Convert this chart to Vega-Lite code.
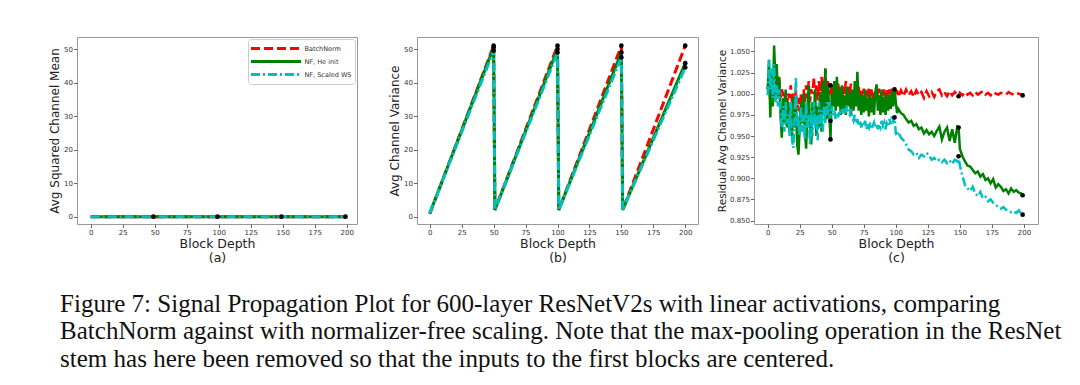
{
  "$schema": "https://vega.github.io/schema/vega-lite/v6.json",
  "background": "white",
  "padding": {"left": 48, "top": 36, "right": 0, "bottom": 0},
  "title": {
    "text": [
      "Figure 7:  Signal Propagation Plot for 600-layer ResNetV2s with linear activations, comparing",
      "BatchNorm against with normalizer-free scaling. Note that the max-pooling operation in the ResNet",
      "stem has here been removed so that the inputs to the first blocks are centered."
    ],
    "orient": "bottom",
    "anchor": "start",
    "dx": 12,
    "offset": 27,
    "font": "Liberation Serif",
    "fontSize": 25,
    "fontWeight": "normal",
    "lineHeight": 27.5,
    "color": "#111"
  },
  "config": {
    "view": {"stroke": "#999", "strokeWidth": 1},
    "axis": {
      "grid": false,
      "domain": false,
      "tickColor": "#666",
      "tickSize": 3.5,
      "labelFont": "DejaVu Sans",
      "labelFontSize": 7,
      "labelColor": "#333",
      "labelPadding": 1,
      "labelOverlap": false,
      "labelFlush": false,
      "titleFont": "DejaVu Sans",
      "titleFontWeight": "normal",
      "titleColor": "#222"
    }
  },
  "resolve": {"scale": {"color": "independent", "strokeDash": "independent"}},
  "spacing": 30,
  "hconcat": [
    {
      "width": 280,
      "height": 187,
      "encoding": {
        "x": {"field": "x", "type": "quantitative", "scale": {"domain": [-10.7, 208], "nice": false, "zero": false},
              "axis": {"values": [0, 25, 50, 75, 100, 125, 150, 175, 200], "title": ["Block Depth", "(a)"], "titleFontSize": 12.5, "titleLineHeight": 14, "titlePadding": 2}},
        "y": {"field": "y", "type": "quantitative", "scale": {"domain": [-2.2, 53.6], "nice": false, "zero": false},
              "axis": {"values": [0, 10, 20, 30, 40, 50], "title": "Avg Squared Channel Mean", "titleFontSize": 12, "titlePadding": 2}}
      },
      "layer": [
        {
          "data": {"values": [
            {"x": 0, "y": 0, "series": "BatchNorm"}, {"x": 49, "y": 0, "series": "BatchNorm"}, {"x": 99, "y": 0, "series": "BatchNorm"}, {"x": 149, "y": 0, "series": "BatchNorm"}, {"x": 199, "y": 0, "series": "BatchNorm"},
            {"x": 0, "y": 0, "series": "NF, He init"}, {"x": 49, "y": 0, "series": "NF, He init"}, {"x": 99, "y": 0, "series": "NF, He init"}, {"x": 149, "y": 0, "series": "NF, He init"}, {"x": 199, "y": 0, "series": "NF, He init"},
            {"x": 0, "y": 0, "series": "NF, Scaled WS"}, {"x": 49, "y": 0, "series": "NF, Scaled WS"}, {"x": 99, "y": 0, "series": "NF, Scaled WS"}, {"x": 149, "y": 0, "series": "NF, Scaled WS"}, {"x": 199, "y": 0, "series": "NF, Scaled WS"}
          ]},
          "mark": {"type": "line", "strokeWidth": 3},
          "encoding": {
            "color": {"field": "series", "type": "nominal",
                      "scale": {"domain": ["BatchNorm", "NF, He init", "NF, Scaled WS"], "range": ["#ff0000", "#008000", "#00bfbf"]},
                      "legend": {"orient": "top-right", "offset": 2, "title": null, "symbolType": "M-5,0L5,0", "symbolSize": 100, "symbolStrokeWidth": 3, "symbolOffset": 18.5, "labelOffset": 22, "labelFont": "DejaVu Sans", "labelFontSize": 6.5, "labelColor": "#333", "strokeColor": "#ccc", "fillColor": "white", "padding": 3, "cornerRadius": 3, "rowPadding": 0}},
            "strokeDash": {"field": "series", "type": "nominal",
                      "scale": {"domain": ["BatchNorm", "NF, He init", "NF, Scaled WS"], "range": [[9, 4], [1, 0], [9, 3, 2, 3]]},
                      "legend": {"orient": "top-right", "offset": 2, "title": null, "symbolType": "M-5,0L5,0", "symbolSize": 100, "symbolStrokeWidth": 3, "symbolOffset": 18.5, "labelOffset": 22, "labelFont": "DejaVu Sans", "labelFontSize": 6.5, "labelColor": "#333", "strokeColor": "#ccc", "fillColor": "white", "padding": 3, "cornerRadius": 3, "rowPadding": 0}}
          }
        },
        {
          "data": {"values": [{"x": 49, "y": 0}, {"x": 99, "y": 0}, {"x": 149, "y": 0}, {"x": 199, "y": 0}]},
          "mark": {"type": "point", "filled": true, "color": "black", "size": 22, "opacity": 1}
        }
      ]
    },
    {
      "spacing": 17,
      "resolve": {"scale": {"color": "independent", "strokeDash": "independent"}},
      "hconcat": [
        {
          "width": 281,
          "height": 187,
          "encoding": {
            "x": {"field": "x", "type": "quantitative", "scale": {"domain": [-10, 210], "nice": false, "zero": false},
                  "axis": {"values": [0, 25, 50, 75, 100, 125, 150, 175, 200], "title": ["Block Depth", "(b)"], "titleFontSize": 12.5, "titleLineHeight": 14, "titlePadding": 2}},
            "y": {"field": "y", "type": "quantitative", "scale": {"domain": [-2.2, 53.6], "nice": false, "zero": false},
                  "axis": {"values": [0, 10, 20, 30, 40, 50], "title": "Avg Channel Variance", "titleFontSize": 12, "titlePadding": 2}}
          },
          "layer": [
            {
              "data": {"values": [
                {"x": 0, "y": 0.8, "series": "BatchNorm"}, {"x": 50, "y": 51, "series": "BatchNorm"}, {"x": 51, "y": 2, "series": "BatchNorm"}, {"x": 100, "y": 51, "series": "BatchNorm"}, {"x": 101, "y": 2, "series": "BatchNorm"}, {"x": 150, "y": 51, "series": "BatchNorm"}, {"x": 151, "y": 2, "series": "BatchNorm"}, {"x": 200, "y": 51, "series": "BatchNorm"},
                {"x": 0, "y": 1, "series": "NF, He init"}, {"x": 50, "y": 50.5, "series": "NF, He init"}, {"x": 51, "y": 2, "series": "NF, He init"}, {"x": 100, "y": 50, "series": "NF, He init"}, {"x": 101, "y": 2, "series": "NF, He init"}, {"x": 150, "y": 49, "series": "NF, He init"}, {"x": 151, "y": 2, "series": "NF, He init"}, {"x": 200, "y": 45.8, "series": "NF, He init"},
                {"x": 0, "y": 1, "series": "NF, Scaled WS"}, {"x": 50, "y": 49.5, "series": "NF, Scaled WS"}, {"x": 51, "y": 2, "series": "NF, Scaled WS"}, {"x": 100, "y": 49, "series": "NF, Scaled WS"}, {"x": 101, "y": 2, "series": "NF, Scaled WS"}, {"x": 150, "y": 47.5, "series": "NF, Scaled WS"}, {"x": 151, "y": 2, "series": "NF, Scaled WS"}, {"x": 200, "y": 44.5, "series": "NF, Scaled WS"}
              ]},
              "mark": {"type": "line", "strokeWidth": 3},
              "encoding": {
                "color": {"field": "series", "type": "nominal",
                          "scale": {"domain": ["BatchNorm", "NF, He init", "NF, Scaled WS"], "range": ["#ff0000", "#008000", "#00bfbf"]}, "legend": null},
                "strokeDash": {"field": "series", "type": "nominal",
                          "scale": {"domain": ["BatchNorm", "NF, He init", "NF, Scaled WS"], "range": [[9, 4], [1, 0], [9, 3, 2, 3]]}, "legend": null}
              }
            },
            {
              "data": {"values": [
                {"x": 50, "y": 51}, {"x": 50, "y": 50.5}, {"x": 50, "y": 49.5},
                {"x": 100, "y": 51}, {"x": 100, "y": 50}, {"x": 100, "y": 49},
                {"x": 150, "y": 51}, {"x": 150, "y": 49}, {"x": 150, "y": 47.5},
                {"x": 200, "y": 51}, {"x": 200, "y": 45.8}, {"x": 200, "y": 44.5}
              ]},
              "mark": {"type": "point", "filled": true, "color": "black", "size": 22, "opacity": 1}
            }
          ]
        },
        {
          "width": 284,
          "height": 187,
          "encoding": {
            "x": {"field": "x", "type": "quantitative", "scale": {"domain": [-10.7, 211], "nice": false, "zero": false},
                  "axis": {"values": [0, 25, 50, 75, 100, 125, 150, 175, 200], "title": ["Block Depth", "(c)"], "titleFontSize": 12.5, "titleLineHeight": 14, "titlePadding": 2}},
            "y": {"field": "value", "type": "quantitative", "scale": {"domain": [0.846, 1.067], "nice": false, "zero": false},
                  "axis": {"values": [0.85, 0.875, 0.9, 0.925, 0.95, 0.975, 1.0, 1.025, 1.05], "format": ".3f", "title": "Residual Avg Channel Variance", "titleFontSize": 10.5, "titlePadding": 2}}
          },
          "layer": [
            {
              "data": {
                "values": "x,bn,he,ws\n0,1.005,1.005,0.998\n1,1.020,1.040,1.040\n2,0.990,0.972,1.005\n3,1.015,1.025,1.030\n4,0.995,0.985,0.995\n5,1.010,1.057,1.035\n6,0.992,1.015,0.990\n7,1.025,1.035,1.010\n8,1.000,0.995,0.985\n9,1.018,1.020,1.005\n10,0.995,0.975,0.975\n11,1.005,0.948,0.960\n12,1.000,0.995,0.985\n13,0.990,0.965,0.955\n14,1.002,1.005,0.990\n15,0.985,0.960,0.965\n16,1.000,0.990,0.975\n17,0.995,0.955,0.950\n18,1.010,0.985,0.990\n19,0.990,0.950,0.945\n20,1.000,0.995,0.936\n21,0.985,0.960,0.970\n22,1.005,0.985,1.020\n23,0.980,0.940,0.960\n24,0.995,0.928,0.975\n25,0.978,0.960,0.950\n26,1.000,0.990,0.985\n27,0.985,0.965,0.955\n28,1.005,1.000,0.975\n29,0.990,0.955,0.945\n30,1.010,0.935,0.990\n31,0.995,0.980,0.960\n32,1.015,1.010,0.975\n33,0.990,0.960,0.940\n34,1.005,0.940,0.980\n35,1.000,0.990,0.950\n36,1.020,0.970,0.990\n37,0.995,1.005,0.960\n38,1.010,0.950,0.975\n39,0.992,0.985,0.945\n40,1.015,0.960,0.990\n41,0.995,1.000,0.960\n42,1.020,0.955,0.980\n43,1.000,1.015,0.955\n44,1.010,0.975,0.985\n45,1.029,1.030,0.965\n46,1.000,0.970,0.990\n47,1.015,1.010,0.975\n48,0.998,0.980,0.990\n49,1.010,0.946,0.968\n50,0.995,1.000,0.985\n51,1.010,0.985,0.975\n52,0.990,1.015,0.980\n53,1.005,0.980,0.970\n54,0.995,1.020,0.978\n55,1.012,0.985,0.972\n56,0.998,1.005,0.980\n57,1.008,0.975,0.975\n58,0.992,1.010,0.982\n59,1.010,0.980,0.976\n60,1.000,0.998,0.984\n61,1.015,0.975,0.980\n62,0.995,1.008,0.986\n63,1.010,0.985,0.978\n64,0.998,1.000,0.975\n65,1.012,0.975,0.982\n66,0.990,1.005,0.972\n67,1.005,0.980,0.968\n68,0.995,1.015,0.975\n69,1.008,0.985,0.965\n70,0.998,1.026,0.970\n71,1.010,0.980,0.962\n72,0.992,1.000,0.968\n73,1.005,0.975,0.960\n74,0.995,0.998,0.966\n75,1.006,0.978,0.962\n76,0.990,1.005,0.968\n77,1.004,0.980,0.958\n78,0.994,0.995,0.964\n79,1.008,0.973,0.960\n80,0.996,1.000,0.966\n81,1.005,0.978,0.958\n82,0.992,0.995,0.962\n83,1.004,0.975,0.966\n84,0.998,1.002,0.960\n85,1.008,1.011,0.965\n86,0.996,0.980,0.958\n87,1.006,0.998,0.964\n88,0.994,0.975,0.960\n89,1.004,1.005,0.968\n90,0.998,0.978,0.962\n91,1.006,0.996,0.966\n92,0.994,0.975,0.958\n93,1.004,1.000,0.965\n94,0.996,0.980,0.962\n95,1.005,0.998,0.970\n96,0.995,0.982,0.964\n97,1.006,1.002,0.975\n98,0.998,0.985,0.968\n99,1.003,1.005,0.972\n100,0.998,0.990,0.953\n101,1.004,0.977,0.950\n102,0.996,0.982,0.955\n104,1.004,0.977,0.948\n106,0.997,0.975,0.945\n108,1.005,0.970,0.940\n110,0.998,0.966,0.934\n112,1.003,0.968,0.932\n114,0.996,0.962,0.928\n116,1.004,0.964,0.930\n118,0.998,0.958,0.924\n120,1.002,0.960,0.928\n122,0.995,0.953,0.926\n124,1.003,0.957,0.930\n126,0.997,0.952,0.927\n128,1.002,0.955,0.922\n130,0.996,0.950,0.924\n132,1.003,0.956,0.920\n134,1.005,0.961,0.922\n136,0.998,0.946,0.919\n138,1.002,0.955,0.922\n140,0.997,0.960,0.918\n142,1.003,0.944,0.921\n144,0.998,0.958,0.917\n146,1.002,0.942,0.922\n148,0.999,0.961,0.920\n149,0.997,0.960,0.926\n150,1.001,0.935,0.915\n152,0.998,0.926,0.903\n154,1.002,0.920,0.892\n156,0.999,0.915,0.888\n158,1.001,0.914,0.885\n160,0.998,0.910,0.890\n162,1.002,0.906,0.882\n164,0.999,0.908,0.879\n166,1.001,0.902,0.884\n168,1.003,0.905,0.876\n170,0.999,0.898,0.878\n172,1.001,0.900,0.873\n174,0.998,0.894,0.875\n176,1.002,0.899,0.871\n178,1.000,0.889,0.869\n180,0.999,0.893,0.866\n182,1.001,0.890,0.864\n184,1.000,0.885,0.866\n186,0.999,0.887,0.863\n188,1.002,0.882,0.862\n190,1.000,0.888,0.860\n192,0.999,0.884,0.861\n194,1.001,0.886,0.859\n196,1.000,0.883,0.862\n198,0.999,0.882,0.858\n199,0.998,0.880,0.857",
                "format": {"type": "csv", "parse": {"x": "number", "bn": "number", "he": "number", "ws": "number"}}
              },
              "transform": [{"fold": ["bn", "he", "ws"], "as": ["series", "value"]}],
              "mark": {"type": "line", "strokeWidth": 2.5},
              "encoding": {
                "color": {"field": "series", "type": "nominal",
                          "scale": {"domain": ["bn", "he", "ws"], "range": ["#ff0000", "#008000", "#00bfbf"]}, "legend": null},
                "strokeDash": {"field": "series", "type": "nominal",
                          "scale": {"domain": ["bn", "he", "ws"], "range": [[9, 4], [1, 0], [9, 3, 2, 3]]}, "legend": null}
              }
            },
            {
              "data": {"values": [
                {"x": 49, "value": 1.010}, {"x": 49, "value": 0.946}, {"x": 49, "value": 0.968},
                {"x": 99, "value": 1.005}, {"x": 99, "value": 0.972},
                {"x": 149, "value": 0.997}, {"x": 149, "value": 0.960}, {"x": 149, "value": 0.926},
                {"x": 199, "value": 0.998}, {"x": 199, "value": 0.880}, {"x": 199, "value": 0.857}
              ]},
              "mark": {"type": "point", "filled": true, "color": "black", "size": 22, "opacity": 1}
            }
          ]
        }
      ]
    }
  ]
}
